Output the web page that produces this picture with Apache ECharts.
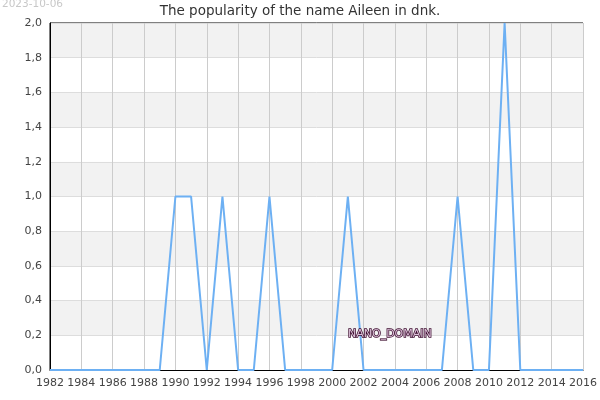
<!DOCTYPE html>
<html>
<head>
<meta charset="utf-8">
<script src="https://cdn.jsdelivr.net/npm/echarts@6/dist/echarts.min.js"></script>
<style>html,body{margin:0;padding:0;background:#fff}#c{width:600px;height:400px}</style>
</head>
<body>
<div id="c"></div>
<script>
var years = [1982,1983,1984,1985,1986,1987,1988,1989,1990,1991,1992,1993,1994,1995,1996,1997,1998,1999,2000,2001,2002,2003,2004,2005,2006,2007,2008,2009,2010,2011,2012,2013,2014,2015,2016];
var counts = [0,0,0,0,0,0,0,0,1,1,0,1,0,0,1,0,0,0,0,1,0,0,0,0,0,0,1,0,0,2,0,0,0,0,0];
var titleText = 'The popularity of the name Aileen in dnk.';
var dateText = '2023-10-06';
var watermark = 'Names of the World © 2023';

var chart = echarts.init(document.getElementById('c'), null, {renderer: 'canvas'});
var font = 'DejaVu Sans';
chart.setOption({
  animation: false,
  backgroundColor: '#fff',
  textStyle: {fontFamily: font},
  title: {
    text: titleText, left: 'center', top: -1,
    textStyle: {fontFamily: font, fontSize: 13.5, fontWeight: 'normal', color: '#333'}
  },
  grid: {left: 50, right: 14, top: 23, bottom: 30, show: true, borderColor: '#000', borderWidth: 1, backgroundColor: 'transparent'},
  xAxis: {
    type: 'value', min: 1982, max: 2016, interval: 2,
    axisLine: {show: true, lineStyle: {color: '#000', width: 1}},
    axisTick: {show: false},
    axisLabel: {color: '#444', fontSize: 11, fontFamily: font, formatter: function(v){return String(v);}},
    splitLine: {show: true, lineStyle: {color: '#ccc', width: 1}}
  },
  yAxis: {
    type: 'value', min: 0, max: 2, interval: 0.2,
    axisLine: {show: true, lineStyle: {color: '#000', width: 1}},
    axisTick: {show: false},
    axisLabel: {color: '#444', fontSize: 11, fontFamily: font, formatter: function(v){return v.toFixed(1).replace('.', ',');}},
    splitLine: {show: true, lineStyle: {color: '#ddd', width: 1}},
    splitArea: {show: true, areaStyle: {color: ['#ffffff', '#f2f2f2']}}
  },
  series: [{
    type: 'line',
    data: years.map(function(y, i){return [y, counts[i]];}),
    showSymbol: false,
    lineStyle: {color: '#6db0f3', width: 2},
    itemStyle: {color: '#6db0f3'},
    z: 3
  }],
  graphic: [
    {type: 'text', x: 2, y: -1, style: {text: dateText, fill: '#c8c8c8', font: '10.5px "DejaVu Sans"', verticalAlign: 'top'}},
    {type: 'text', x: 80, y: 50, style: {text: watermark, fill: '#e8e8f8', font: '11px "DejaVu Sans"'}},
    {type: 'text', x: 285, y: 136, style: {text: watermark, fill: '#e8e8f8', font: '11px "DejaVu Sans"'}},
    {type: 'text', x: 143, y: 214, style: {text: watermark, fill: '#e8e8f8', font: '11px "DejaVu Sans"'}},
    {type: 'text', x: 348, y: 329, z: 10, style: {text: 'NANO_DOMAIN', fill: '#dcc0d8', stroke: '#3a0a2c', lineWidth: 1.5, font: '11px "DejaVu Sans"'}}
  ]
});
</script>
</body>
</html>
